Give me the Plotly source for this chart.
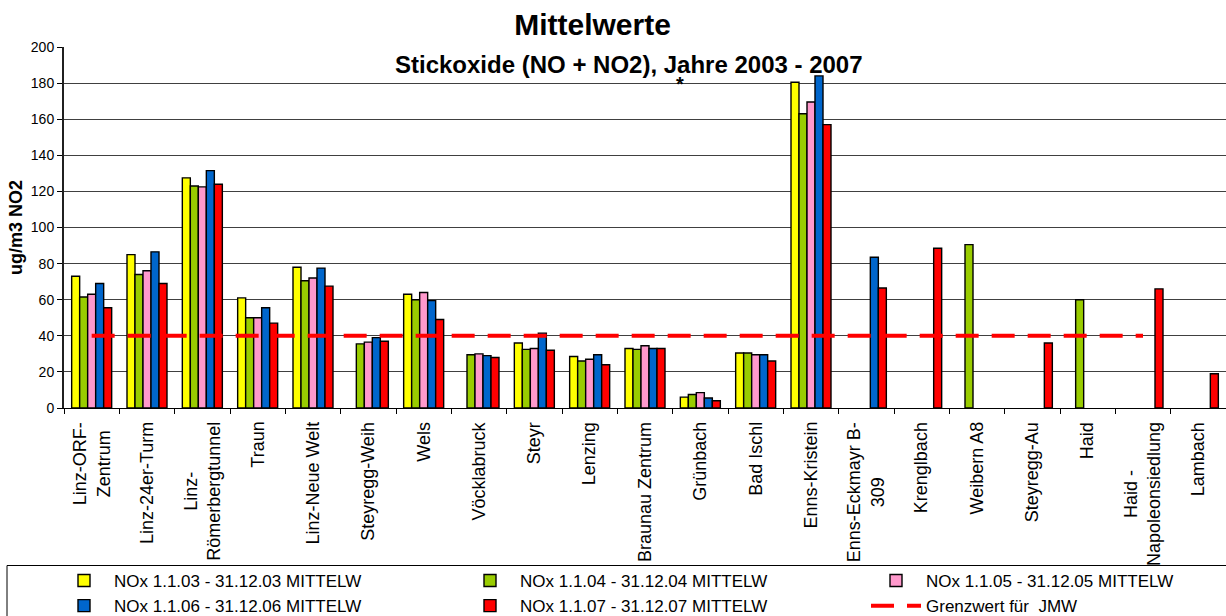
import plotly.graph_objects as go

stations = ["Linz-ORF-Zentrum", "Linz-24er-Turm", "Linz-Römerbergtunnel", "Traun",
            "Linz-Neue Welt", "Steyregg-Weih", "Wels", "Vöcklabruck", "Steyr", "Lenzing",
            "Braunau Zentrum", "Grünbach", "Bad Ischl", "Enns-Kristein",
            "Enns-Eckmayr B-309", "Krenglbach", "Weibern A8", "Steyregg-Au", "Haid",
            "Haid - Napoleonsiedlung", "Lambach"]
tick_labels = ["Linz-ORF-<br>Zentrum", "Linz-24er-Turm", "Linz-<br>Römerbergtunnel", "Traun",
               "Linz-Neue Welt", "Steyregg-Weih", "Wels", "Vöcklabruck", "Steyr", "Lenzing",
               "Braunau Zentrum", "Grünbach", "Bad Ischl", "Enns-Kristein",
               "Enns-Eckmayr B-<br>309", "Krenglbach", "Weibern A8", "Steyregg-Au", "Haid",
               "Haid -<br>Napoleonsiedlung", "Lambach"]

nox_2003 = [73, 85, 127.5, 61, 78, None, 63, None, 36, 28.5, 33, 6, 30.5, 180.5,
            None, None, None, None, None, None, None]
nox_2004 = [61.5, 74, 123, 50, 70.5, 35.5, 60, 29.5, 32.5, 26, 32.5, 7.5, 30.5, 163,
            None, None, 90.5, None, 60, None, None]
nox_2005 = [63, 76, 122.5, 50, 72, 36.5, 64, 30, 33, 27, 34.5, 8.5, 29.5, 169.5,
            None, None, None, None, None, None, None]
nox_2006 = [69, 86.5, 131.5, 55.5, 77.5, 39, 59.5, 29, 41.5, 29.5, 33, 5.5, 29.5, 184,
            83.5, None, None, None, None, None, None]
nox_2007 = [55.5, 69, 124, 47, 67.5, 37, 49, 28, 32, 24, 33, 4, 26, 157,
            66.5, 88.5, None, 36, None, 66, 19]
grenzwert = [40] * 20 + [None]

series = [
    ("NOx 1.1.03 - 31.12.03 MITTELW", nox_2003, "#FFFF00"),
    ("NOx 1.1.04 - 31.12.04 MITTELW", nox_2004, "#99CC00"),
    ("NOx 1.1.05 - 31.12.05 MITTELW", nox_2005, "#FF99CC"),
    ("NOx 1.1.06 - 31.12.06 MITTELW", nox_2006, "#0066CC"),
    ("NOx 1.1.07 - 31.12.07 MITTELW", nox_2007, "#FF0000"),
]

FONT = "Liberation Sans, Arial, sans-serif"
W, H = 1226, 616
ML, MR, MT, MB = 64, 0, 47, 208
PW, PH = W - ML - MR, H - MT - MB

fig = go.Figure()
for name, vals, col in series:
    fig.add_trace(go.Bar(x=stations, y=vals, name=name, marker_color=col,
                         marker_line_color="black", marker_line_width=1.4))
fig.add_trace(go.Scatter(x=stations, y=grenzwert, name="Grenzwert für  JMW", mode="lines",
                         line=dict(color="#FF0000", width=4, dash="23px,13px")))

def px_x(px):
    return (px - ML) / PW

def px_y(py):
    return (H - MB - py) / PH

fig.update_layout(
    width=W, height=H,
    margin=dict(l=ML, r=MR, t=MT, b=MB, autoexpand=False),
    paper_bgcolor="white", plot_bgcolor="white",
    font=dict(family=FONT, color="black"),
    barmode="group", bargap=0.277, bargroupgap=0,
    title=dict(text="<b>Mittelwerte</b>", font=dict(size=30, family=FONT, color="black"),
               x=592.5 / W, xanchor="center", xref="container",
               y=1 - 24.5 / H, yanchor="middle", yref="container"),
    xaxis=dict(tickvals=stations, ticktext=tick_labels, showticklabels=False,
               showline=True, linecolor="black", linewidth=1,
               ticks="outside", ticklen=5, tickcolor="black", tickson="boundaries",
               showgrid=False),
    yaxis=dict(range=[0, 200], dtick=20, tick0=0, showgrid=True, gridcolor="#404040",
               gridwidth=1, showline=True, linecolor="#202020", linewidth=2,
               ticks="outside", ticklen=5, tickcolor="black", tickfont=dict(size=14),
               zeroline=False,
               title=dict(text="<b>ug/m3 NO2</b>", font=dict(size=18), standoff=4)),
    legend=dict(orientation="h", font=dict(size=17), entrywidth=341, entrywidthmode="pixels",
                itemwidth=50, x=px_x(54), xref="paper", xanchor="left",
                y=px_y(563), yref="paper", yanchor="top",
                borderwidth=0, bgcolor="rgba(0,0,0,0)", traceorder="normal"),
    showlegend=True,
)

# category labels: rotated, centred multi-line text placed at each category
for st, lab in zip(stations, tick_labels):
    fig.add_annotation(text=lab, x=st, xref="x", y=px_y(420), yref="paper",
                       xanchor="center", yanchor="top", textangle=-90, align="center",
                       showarrow=False, font=dict(size=18, family=FONT, color="black"))

fig.add_annotation(text="<b>Stickoxide (NO + NO2), Jahre 2003 - 2007</b>",
                   xref="paper", yref="paper", x=px_x(628.5), y=px_y(64.5),
                   xanchor="center", yanchor="middle", showarrow=False,
                   font=dict(size=24, family=FONT, color="black"))
fig.add_annotation(text="<b>*</b>", xref="paper", yref="paper", x=px_x(680), y=px_y(84),
                   xanchor="center", yanchor="middle", showarrow=False,
                   font=dict(size=20, family=FONT, color="black"))
# legend frame
fig.add_shape(type="rect", xref="paper", yref="paper",
              x0=px_x(7), x1=px_x(1250), y0=px_y(565.5), y1=px_y(650),
              line=dict(color="black", width=1), fillcolor="rgba(0,0,0,0)", layer="below")

fig.write_html("out.html")
